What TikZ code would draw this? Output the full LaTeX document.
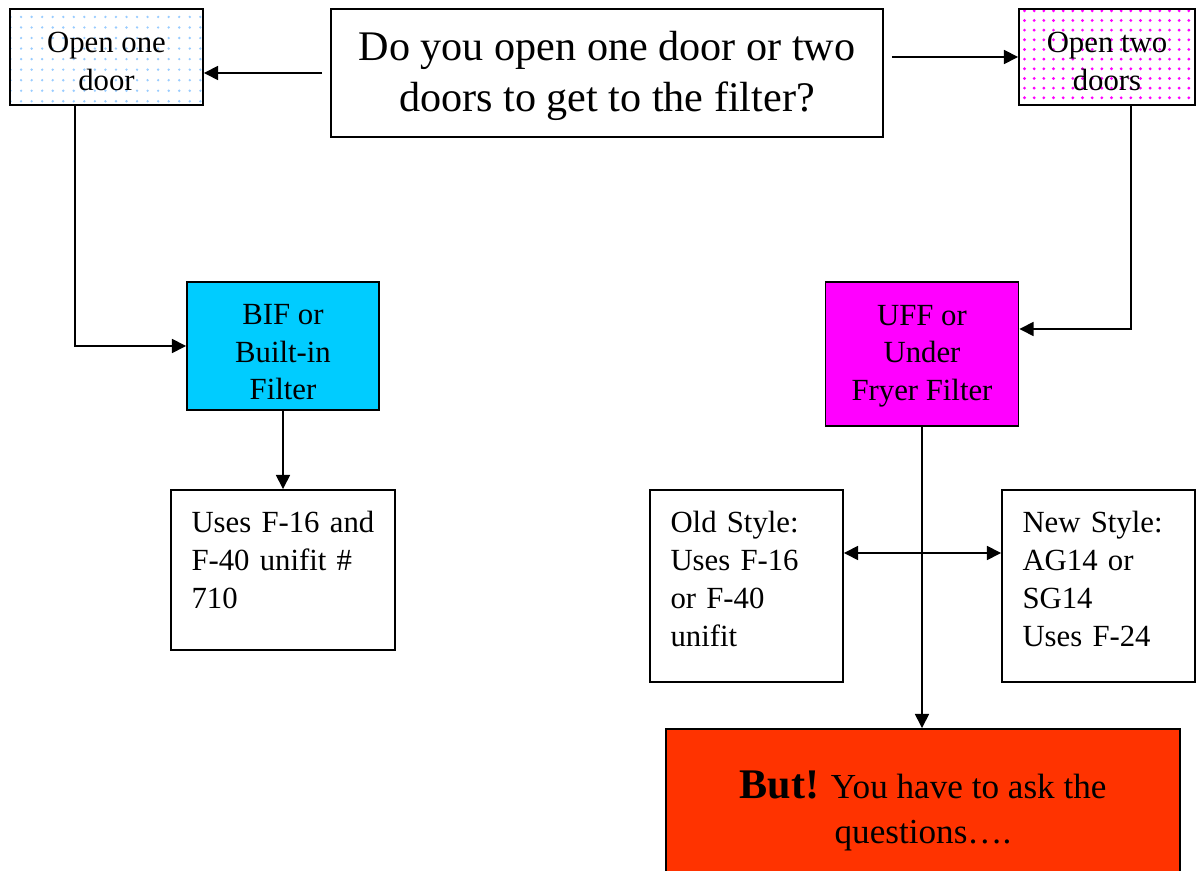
\documentclass[tikz,border=0pt]{standalone}
\usepackage{fontspec}
\setmainfont{Liberation Serif}
\usepackage{xcolor}
\usepackage{tikz}
\usetikzlibrary{arrows.meta,patterns.meta}

\definecolor{bifcol}{HTML}{00CCFF}
\definecolor{uffcol}{HTML}{FF00FF}
\definecolor{butcol}{HTML}{FF3300}
\definecolor{dotblue}{HTML}{99CCFF}

\newcommand{\botpad}[1]{\par\kern#1\relax}
\newcommand{\toppad}[1]{\rule{0pt}{#1}}

\tikzset{
  box/.style={draw=black, line width=1.1pt, inner sep=0pt, align=center,
    font=\fontsize{17.5}{21.5}\selectfont},
  leftbox/.style={box, align=left, inner xsep=0.41cm, text width=#1,
    font=\fontsize{17.5}{21.8}\selectfont},
  arr/.style={-{Triangle[length=8pt,width=8pt]}, line width=0.9pt},
}

\begin{document}
\begin{tikzpicture}
\useasboundingbox (0,0) rectangle (23.92,-17.42);
% top row %
\node[box, minimum width=3.86cm, minimum height=1.92cm,
  pattern={Dots[distance=6pt,radius=0.75pt]}, pattern color=dotblue] (one) at (2.13,-1.14) {\toppad{16.6pt}Open one\\door};
\node[box, minimum width=11.04cm, minimum height=2.56cm,
  font=\fontsize{24}{28.5}\selectfont] (q) at (12.14,-1.46) {\toppad{20pt}Do you open one door or two\\doors to get to the filter?};
\node[box, minimum width=3.52cm, minimum height=1.92cm,
  pattern={Dots[distance=5.5pt,radius=0.9pt]}, pattern color=uffcol] (two) at (22.14,-1.14) {\toppad{16.6pt}Open two\\doors};
% filter type %
\node[box, fill=bifcol, minimum width=3.84cm, minimum height=2.56cm] (bif) at (5.66,-6.92) {\toppad{18.4pt}BIF or\\Built-in\\Filter};
\node[box, fill=uffcol, minimum width=3.86cm, minimum height=2.88cm] (uff) at (18.44,-7.08) {\toppad{13.8pt}UFF or\\Under\\Fryer Filter};
% filters used %
\node[leftbox=3.66cm, minimum height=3.2cm] (uses) at (5.66,-11.4) {Uses F-16 and\\F-40 unifit \#\\710\botpad{0.4cm}};
\node[leftbox=3.04cm, minimum height=3.84cm] (old) at (14.93,-11.72) {Old Style:\\Uses F-16\\or F-40\\unifit\botpad{0.28cm}};
\node[leftbox=3.04cm, minimum height=3.84cm] (new) at (21.97,-11.72) {New Style:\\AG14 or\\SG14\\Uses F-24\botpad{0.28cm}};
\node[box, fill=butcol, minimum width=10.28cm, minimum height=3.06cm,
  font=\fontsize{20}{25.5}\selectfont] (but) at (18.46,-16.11) {\toppad{22pt}{\fontsize{24}{25.5}\selectfont\bfseries But!} You have to ask the\\questions\dots.};
% connectors %
\draw[arr] ([xshift=-0.16cm]q.west) -- (q.west -| one.east);
\draw[arr] ([xshift=0.16cm]q.east |- two.west) -- (two.west);
\draw[arr] (1.5,0 |- one.south) |- (bif.west);
\draw[arr] (22.62,0 |- two.south) |- (uff.east |- 0,-6.58);
\draw[arr] (bif.south) -- (uses.north);
\draw[arr] (uff.south) -- (uff.south |- but.north);
\draw[{Triangle[length=8pt,width=8pt]}-{Triangle[length=8pt,width=8pt]}, line width=0.9pt] (old.east |- 0,-11.06) -- (new.west |- 0,-11.06);
\end{tikzpicture}
\end{document}
